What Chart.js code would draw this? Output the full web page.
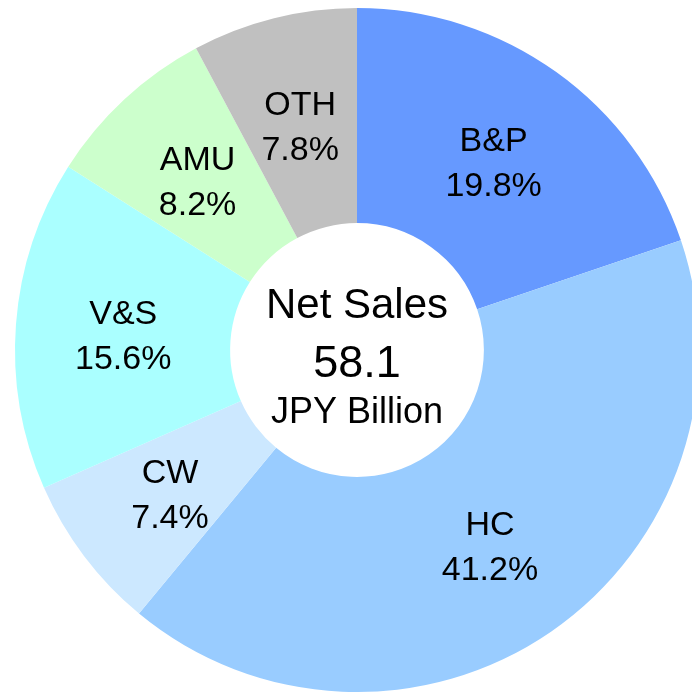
<!DOCTYPE html>
<html>
<head>
<meta charset="utf-8">
<script src="https://cdn.jsdelivr.net/npm/chart.js@4/dist/chart.umd.min.js"></script>
<style>
  html, body { margin: 0; padding: 0; background: #fff; overflow: hidden; }
  #wrap { width: 692px; height: 692px; overflow: hidden; position: relative; }
  canvas { position: absolute; left: 0; top: 0; }
</style>
</head>
<body>
<div id="wrap"><canvas id="salesChart" width="714" height="692"></canvas></div>
<script>
const segments = ["B&P", "HC", "CW", "V&S", "AMU", "OTH"];
const shares = [19.8, 41.2, 7.4, 15.6, 8.2, 7.8];
const colors = ["#6699ff", "#99ccff", "#cce8ff", "#aaffff", "#ccffcc", "#c0c0c0"];
const centerLines = ["Net Sales", "58.1", "JPY Billion"];

const FONT = "'Liberation Sans', Arial, sans-serif";

// Segment name + share, drawn in the middle of each ring slice
const sliceLabels = {
  id: "sliceLabels",
  afterDatasetsDraw(chart) {
    const ctx = chart.ctx;
    const arcs = chart.getDatasetMeta(0).data;
    ctx.save();
    ctx.fillStyle = "#000";
    ctx.textAlign = "center";
    ctx.textBaseline = "alphabetic";
    ctx.font = `34px ${FONT}`;
    arcs.forEach((arc, i) => {
      const p = arc.getCenterPoint();
      ctx.fillText(segments[i], p.x, p.y - 8);
      ctx.fillText(shares[i].toFixed(1) + "%", p.x, p.y + 37);
    });
    ctx.restore();
  },
};

// Text inside the hole
const centerText = {
  id: "centerText",
  afterDraw(chart) {
    const ctx = chart.ctx;
    const arc = chart.getDatasetMeta(0).data[0];
    const cx = arc.x, cy = arc.y;
    ctx.save();
    ctx.fillStyle = "#000";
    ctx.textAlign = "center";
    ctx.textBaseline = "alphabetic";
    ctx.font = `42px ${FONT}`;
    ctx.fillText(centerLines[0], cx, cy - 32);
    ctx.font = `45px ${FONT}`;
    ctx.fillText(centerLines[1], cx, cy + 27);
    ctx.font = `36px ${FONT}`;
    ctx.fillText(centerLines[2], cx, cy + 73);
    ctx.restore();
  },
};

new Chart(document.getElementById("salesChart"), {
  type: "doughnut",
  data: {
    labels: segments,
    datasets: [
      {
        data: shares,
        backgroundColor: colors,
        borderWidth: 0,
      },
    ],
  },
  options: {
    responsive: false,
    animation: false,
    cutout: "37.1%",
    layout: { padding: { top: 8, left: 15, right: 15, bottom: 0 } },
    plugins: { legend: { display: false }, tooltip: { enabled: false } },
  },
  plugins: [sliceLabels, centerText],
});
</script>
</body>
</html>
